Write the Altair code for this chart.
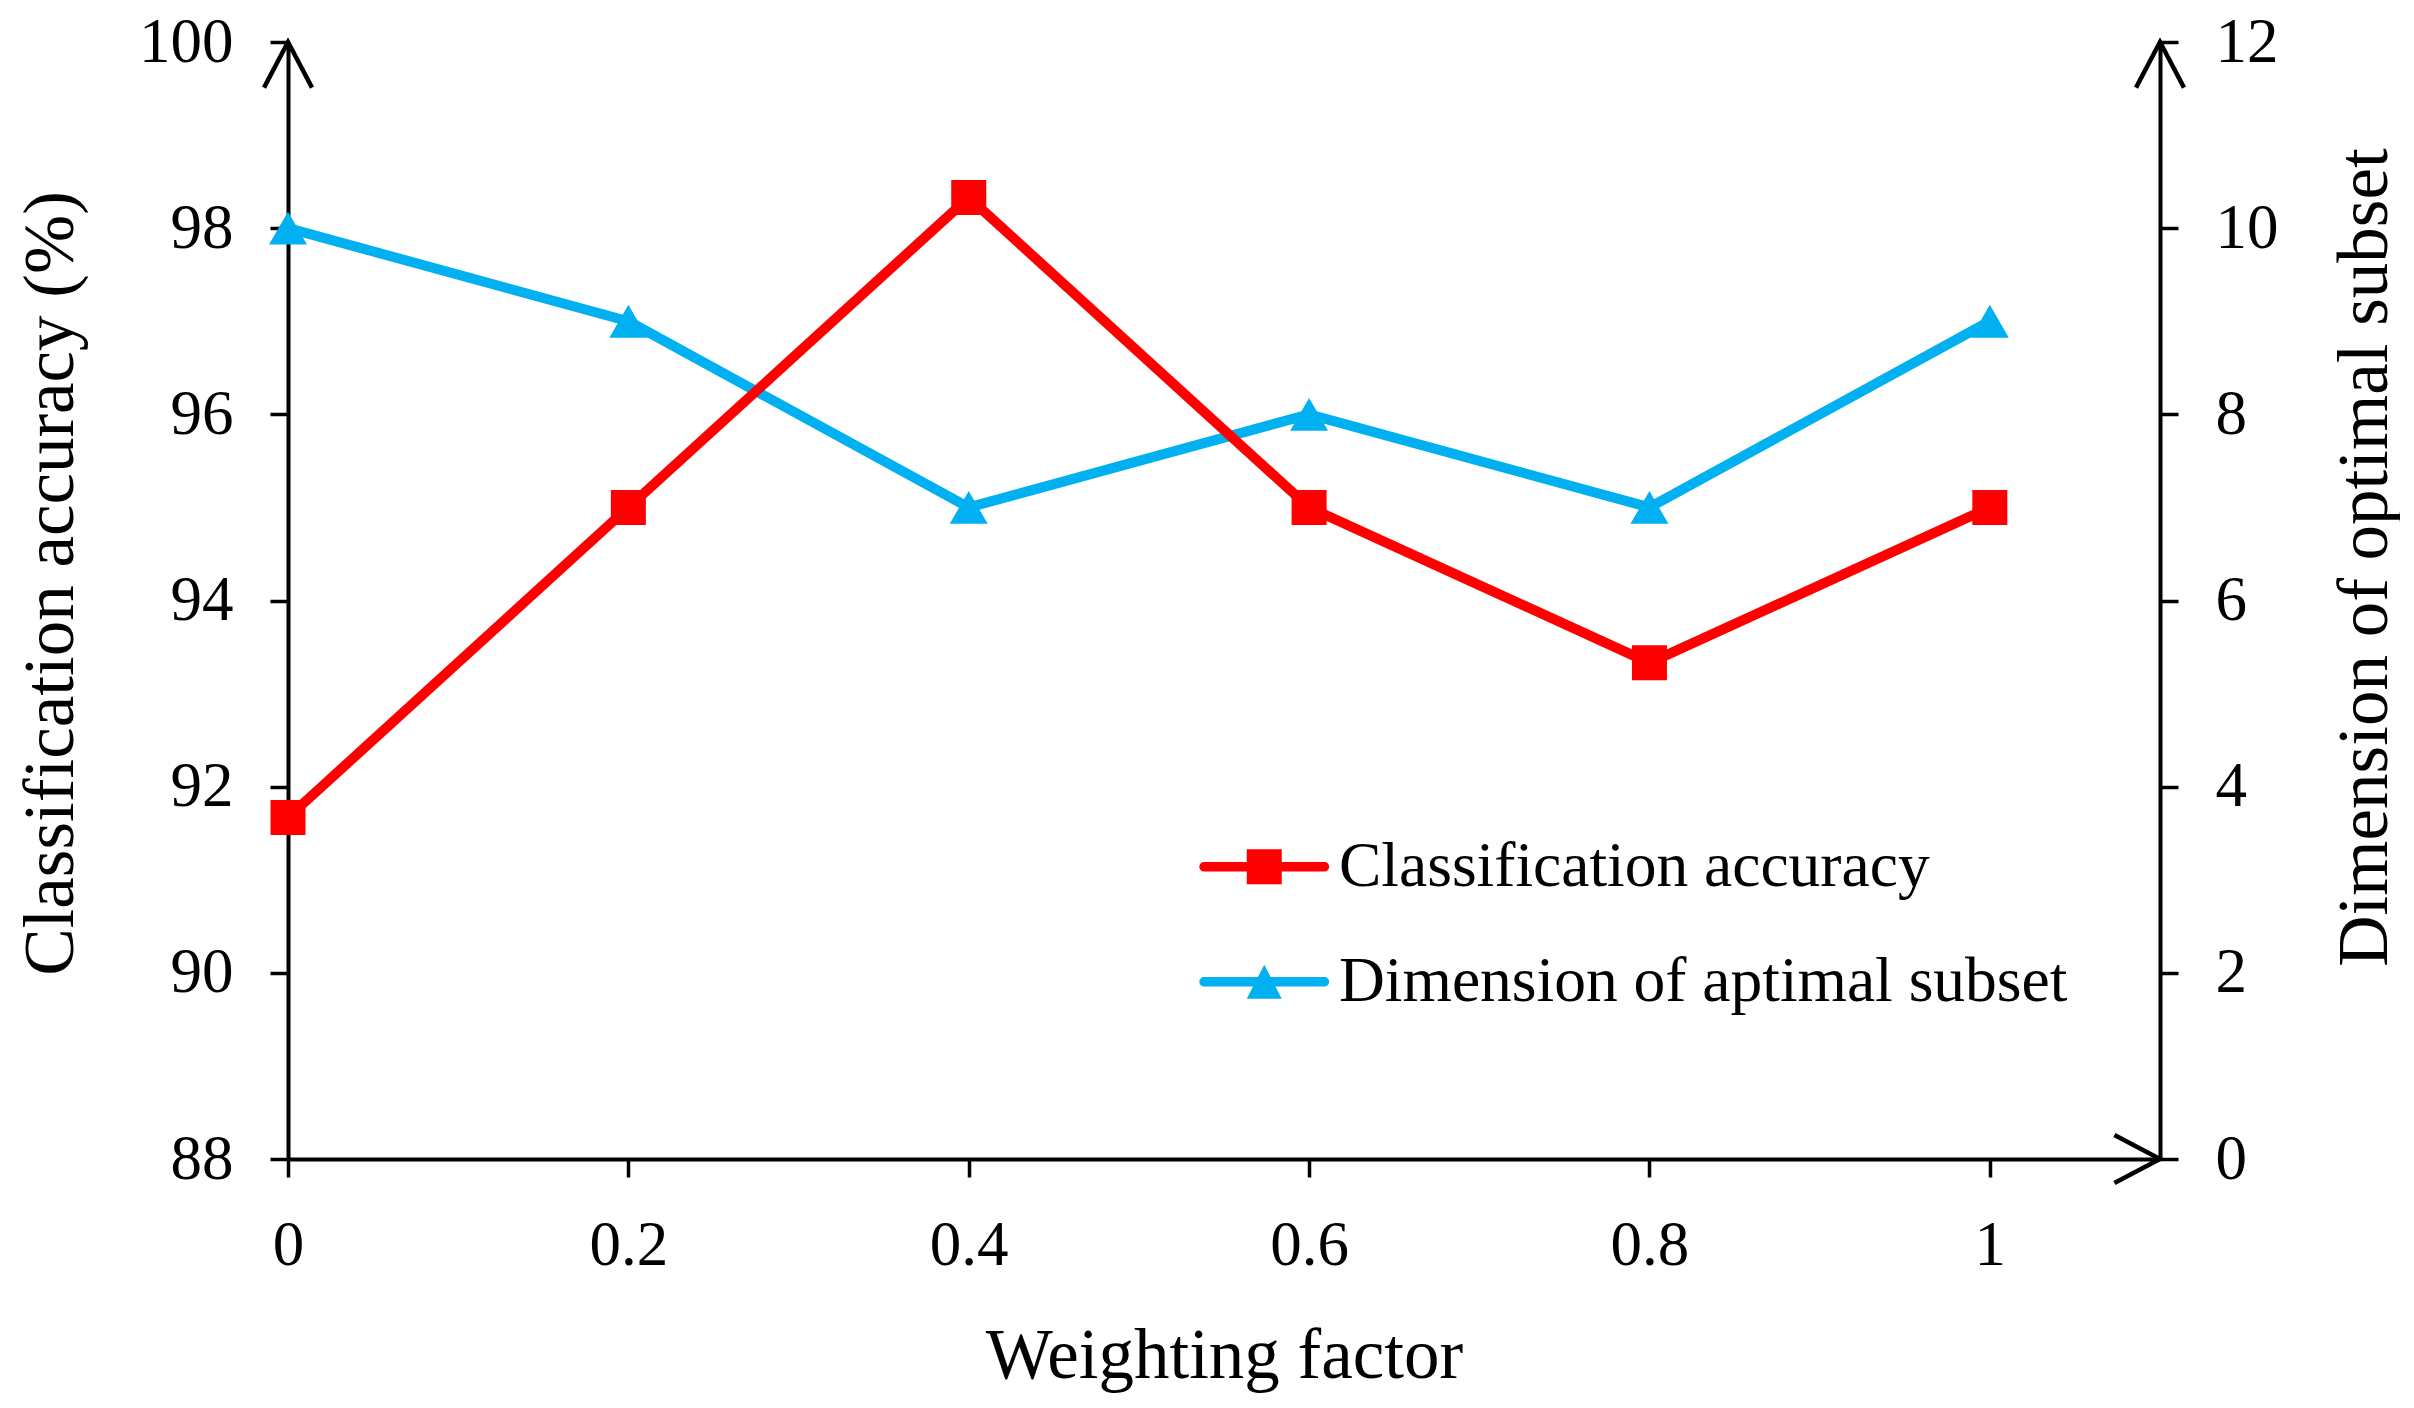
import altair as alt
import pandas as pd

# ---- data ----
weights = [0, 0.2, 0.4, 0.6, 0.8, 1.0]
accuracy = [91.67, 95.0, 98.33, 95.0, 93.33, 95.0]
dimension = [10, 9, 7, 8, 7, 9]
series_names = ["Classification accuracy", "Dimension of aptimal subset"]
series_colors = ["#FF0000", "#00B0F0"]
x_ticks = [0, 0.2, 0.4, 0.6, 0.8, 1]
acc_ticks = [88, 90, 92, 94, 96, 98, 100]
dim_ticks = [0, 2, 4, 6, 8, 10, 12]

x_domain = [0, 1.1]
acc_domain = [88, 100]
dim_domain = [0, 12]

FONT = "Liberation Serif"
W, H = 1872, 1117

df = pd.DataFrame({"w": weights, "acc": accuracy, "dim": dimension})

axis_common = dict(
    domainColor="black", domainWidth=4, tickColor="black", tickWidth=3.5,
    tickSize=18, labelPadding=37, labelFont=FONT, labelFontSize=63,
    labelColor="black", titleFont=FONT, titleFontSize=71,
    titleFontWeight="normal", titleColor="black", grid=False,
    titleBaseline="alphabetic", labelFlush=False, labelOverlap=False,
)

x_enc = alt.X(
    "w:Q",
    scale=alt.Scale(domain=x_domain, nice=False, zero=False),
    axis=alt.Axis(values=x_ticks, format="~g", title="Weighting factor",
                  titleY=218, **axis_common),
)
y_acc = alt.Y(
    "acc:Q",
    scale=alt.Scale(domain=acc_domain, nice=False, zero=False),
    axis=alt.Axis(orient="left", values=acc_ticks,
                  title="Classification accuracy (%)",
                  titleX=-216, titleY=541, titleAngle=270, titleAlign="center",
                  **axis_common),
)
y_dim = alt.Y(
    "dim:Q",
    scale=alt.Scale(domain=dim_domain, nice=False, zero=False),
    axis=alt.Axis(orient="right", values=dim_ticks,
                  title="Dimension of optimal subset",
                  titleX=226, titleY=515, titleAngle=270, titleAlign="center",
                  **axis_common),
)

acc_line = alt.Chart(df).mark_line(
    color=series_colors[0], strokeWidth=10, strokeJoin="round"
).encode(x=x_enc, y=y_acc)
acc_pts = alt.Chart(df).mark_point(
    shape="square", filled=True, size=1225, color=series_colors[0], opacity=1
).encode(x=x_enc, y=y_acc)

# axis arrow heads at the axis ends (taken from the scale domains)
arrow_up = pd.DataFrame({"w": [x_domain[0], x_domain[1]],
                         "acc": [acc_domain[1], acc_domain[1]]})
arrow_right = pd.DataFrame({"w": [x_domain[1]], "acc": [acc_domain[0]]})
up_path = "M -1 1.9 L 0 0 L 1 1.9"
right_path = "M -1.9 -1 L 0 0 L -1.9 1"
arr_up = alt.Chart(arrow_up).mark_point(
    shape=up_path, filled=False, size=2304, color="black", strokeWidth=4.5,
    opacity=1
).encode(x=x_enc, y=y_acc)
arr_right = alt.Chart(arrow_right).mark_point(
    shape=right_path, filled=False, size=2304, color="black", strokeWidth=4.5,
    opacity=1
).encode(x=x_enc, y=y_acc)

dim_line = alt.Chart(df).mark_line(
    color=series_colors[1], strokeWidth=10, strokeJoin="round"
).encode(x=x_enc, y=y_dim)
dim_pts = alt.Chart(df).mark_point(
    shape="triangle-up", filled=True, size=1444, color=series_colors[1],
    opacity=1
).encode(x=x_enc, y=y_dim)

# legend symbols: line (as thin rounded bar) + marker
leg_sq = ("M -3.44 -0.27 L 3.44 -0.27 A 0.27 0.27 0 0 1 3.44 0.27 "
          "L -3.44 0.27 A 0.27 0.27 0 0 1 -3.44 -0.27 Z "
          "M -1 -1 L 1 -1 L 1 1 L -1 1 Z")
leg_tri = ("M -3.44 -0.27 L 3.44 -0.27 A 0.27 0.27 0 0 1 3.44 0.27 "
           "L -3.44 0.27 A 0.27 0.27 0 0 1 -3.44 -0.27 Z "
           "M -1 0.97 L 0 -0.97 L 1 0.97 Z")

legend = alt.Legend(
    title=None, orient="none", legendX=944.5, legendY=793,
    labelFont=FONT, labelFontSize=63.5, labelColor="black", labelLimit=0,
    symbolSize=1225, symbolStrokeWidth=0, symbolOpacity=1,
    labelOffset=43, rowPadding=50, padding=0,
)
legend_df = pd.DataFrame({"series": series_names})
legend_layer = alt.Chart(legend_df).transform_filter("false").mark_point(
    filled=True, opacity=1
).encode(
    color=alt.Color("series:N",
                    scale=alt.Scale(domain=series_names, range=series_colors),
                    legend=legend),
    shape=alt.Shape("series:N",
                    scale=alt.Scale(domain=series_names,
                                    range=[leg_sq, leg_tri]),
                    legend=legend),
)

right_part = alt.layer(dim_line, dim_pts)
left_part = alt.layer(acc_line, acc_pts, arr_up, arr_right)

chart = alt.layer(right_part, left_part, legend_layer).resolve_scale(
    y="independent"
).properties(
    width=W, height=H,
    padding={"left": 280, "top": 34, "right": 240, "bottom": 235},
    autosize=alt.AutoSizeParams(type="none"),
    background="white",
).configure_view(stroke=None)

chart.save("out.html", embed_options={"renderer": "svg", "actions": False})
